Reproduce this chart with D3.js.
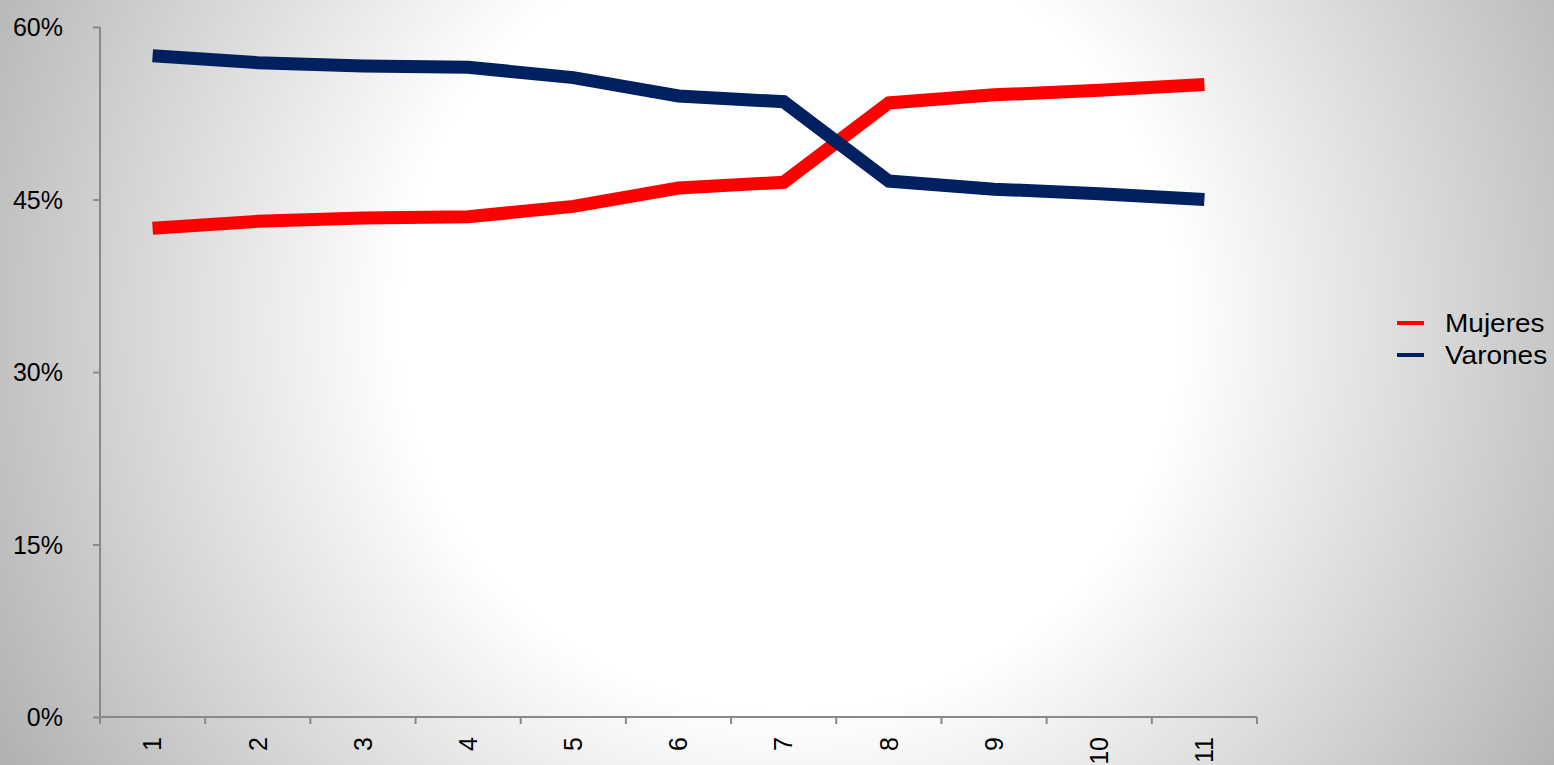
<!DOCTYPE html>
<html>
<head>
<meta charset="utf-8">
<script src="https://cdn.jsdelivr.net/npm/d3@7"></script>
<style>
  html, body { margin: 0; padding: 0; overflow: hidden; }
  text { font-family: "Liberation Sans", Arial, sans-serif; fill: #000; }
</style>
</head>
<body>
<svg id="chart" width="1554" height="765"></svg>
<script>
// categories on the x axis
const categories = ['1','2','3','4','5','6','7','8','9','10','11'];
// share of each group, in %
const mujeres = [42.5, 43.1, 43.4, 43.5, 44.4, 46.0, 46.5, 53.4, 54.1, 54.5, 55.0];
const varones = [57.5, 56.9, 56.6, 56.5, 55.6, 54.0, 53.5, 46.6, 45.9, 45.5, 45.0];
const yTicks = [0, 15, 30, 45, 60];
const seriesNames = ['Mujeres', 'Varones'];
const seriesColors = ['#ff0000', '#002060'];

const svg = d3.select('#chart');

// background radial gradient
const defs = svg.append('defs');
const grad = defs.append('radialGradient')
    .attr('id', 'bg')
    .attr('gradientUnits', 'userSpaceOnUse')
    .attr('cx', 790).attr('cy', 320).attr('r', 930);
grad.append('stop').attr('offset', '0.42').attr('stop-color', '#ffffff');
grad.append('stop').attr('offset', '1').attr('stop-color', '#adadad');
svg.append('rect').attr('width', 1554).attr('height', 765).attr('fill', 'url(#bg)');

const x = d3.scaleBand().domain(categories).range([100, 1257]);
const y = d3.scaleLinear().domain([0, 60]).range([717, 27]);

// y axis
const yAxis = svg.append('g')
    .attr('transform', 'translate(100,0)')
    .call(d3.axisLeft(y).tickValues(yTicks).tickSize(7).tickPadding(30)
        .tickFormat(d => d + '%'));
yAxis.selectAll('path, line').attr('stroke', '#898989').attr('stroke-width', 2);
yAxis.select('.domain').attr('d', 'M0,' + y(60) + 'V' + y(0));
yAxis.selectAll('text').style('font-size', '25px').attr('dy', '0.35em');

// x axis, ticks between the categories
const xAxis = svg.append('g').attr('transform', 'translate(0,717)');
xAxis.append('line')
    .attr('x1', x.range()[0]).attr('x2', x.range()[1])
    .attr('stroke', '#898989').attr('stroke-width', 2);
const bounds = categories.map(c => x(c)).concat([x.range()[1]]);
xAxis.selectAll('.tk').data(bounds).enter().append('line')
    .attr('class', 'tk')
    .attr('x1', d => d).attr('x2', d => d)
    .attr('y1', 0).attr('y2', 7)
    .attr('stroke', '#898989').attr('stroke-width', 2);
xAxis.selectAll('.lbl').data(categories).enter().append('text')
    .attr('class', 'lbl')
    .attr('transform', d => 'translate(' + (x(d) + x.bandwidth() / 2) + ',20) rotate(-90)')
    .attr('text-anchor', 'end')
    .attr('dy', '0.35em')
    .style('font-size', '25px')
    .text(d => d);

// lines
const line = d3.line()
    .x((d, i) => x(categories[i]) + x.bandwidth() / 2)
    .y(d => y(d));

[mujeres, varones].forEach(function(s, i) {
    svg.append('path')
        .datum(s)
        .attr('d', line)
        .attr('fill', 'none')
        .attr('stroke', seriesColors[i])
        .attr('stroke-width', 13)
        .attr('stroke-linejoin', 'miter');
});

// legend
const legend = svg.append('g').attr('transform', 'translate(1397,323)');
seriesNames.forEach(function(n, i) {
    const g = legend.append('g').attr('transform', 'translate(0,' + i * 32 + ')');
    g.append('line').attr('x1', 0).attr('x2', 27)
        .attr('stroke', seriesColors[i]).attr('stroke-width', 4);
    g.append('text').attr('transform', 'translate(48,0) scale(1.12,1)')
        .attr('dy', '0.35em')
        .style('font-size', '25px').text(n);
});
</script>
</body>
</html>
